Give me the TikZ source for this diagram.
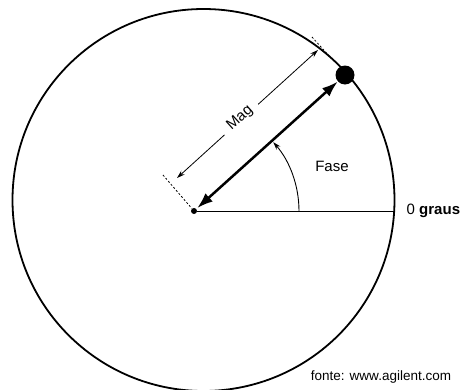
\documentclass[tikz,border=0pt]{standalone}
\usepackage{fontspec}
\setmainfont{Liberation Sans}
\usetikzlibrary{arrows.meta,positioning}
\begin{document}
\begin{tikzpicture}[x=1pt,y=1pt,>=latex,
   lbl/.style={font=\fontsize{15}{17}\selectfont},
   vec/.style={<->,line width=2.5pt,>={Latex[length=16pt,width=11pt]}},
   dim/.style={<->,line width=0.8pt,>={Stealth[length=8pt,width=5pt]}},
   ext/.style={line width=0.8pt,dash pattern=on 2pt off 2pt}]
   \useasboundingbox (-194,-178) rectangle (269,211);
   %circle
   \draw[line width=1.8pt] (9.5,11) circle (191);
   %points
   \node[circle,fill,inner sep=0pt,minimum size=6pt] (O) at (0,0) {};
   \node[circle,fill,inner sep=0pt,minimum width=19pt] (P) at (151,136) {};
   \coordinate (Z) at (200.2,0);
   %zero line
   \draw[line width=0.8pt] (O) -- (Z);
   \node[lbl,right=9pt of Z] (graus) {0 \textbf{graus}};
   %vector
   \draw[vec,shorten <=1pt] (O) -- (P);
   %phase
   \coordinate (A0) at (105,0);
   \draw[->,line width=0.9pt,>={Stealth[length=8pt,width=5pt]}] (A0) arc[start angle=0,end angle=41,radius=105] coordinate (A1);
   \node[lbl] (fase) at (138,45) {Fase};
   %magnitude
   \coordinate (m1) at (-17,33);
   \coordinate (m2) at (124,161);
   \coordinate (e1) at (-31,36);
   \coordinate (e2a) at (118,174);
   \coordinate (e2b) at (136,154);
   \draw[ext] (e1) -- (O);
   \draw[ext] (e2a) -- (e2b);
   \draw[dim] (m1) -- (m2);
   \node[lbl,fill=white,inner xsep=8pt,inner ysep=0pt,rotate=42] (mag) at (46,93) {Mag};
   %source
   \node[font=\fontsize{13.5}{15}\selectfont] (fonte) at (187,-166) {fonte: www.agilent.com};
\end{tikzpicture}
\end{document}
